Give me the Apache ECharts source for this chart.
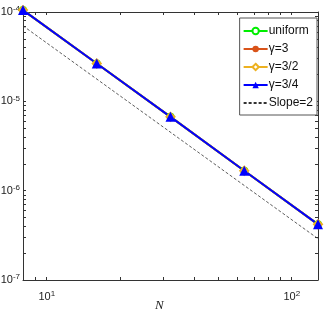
<!DOCTYPE html>
<html><head><meta charset="utf-8">
<script src="https://cdn.jsdelivr.net/npm/echarts@6/dist/echarts.min.js"></script>
<style>html,body{margin:0;padding:0;background:#fff}#c{width:332px;height:316px}</style>
</head><body><div id="c"></div>
<script>
const N = [8, 16, 32, 64, 128];
const uniform = [1.05e-4, 2.65e-5, 6.7e-6, 1.67e-6, 4.2e-7];
const gamma3 = [1.05e-4, 2.65e-5, 6.7e-6, 1.67e-6, 4.2e-7];
const gamma32 = [1.05e-4, 2.65e-5, 6.7e-6, 1.67e-6, 4.2e-7];
const gamma34 = [1.05e-4, 2.65e-5, 6.7e-6, 1.67e-6, 4.2e-7];
const slope2N = [8, 128];
const slope2 = [7.0e-5, 2.9e-7];
const xTicks = [9, 10, 20, 30, 40, 50, 60, 70, 80, 90, 100];
const xLabels = [10, 100];
const yTicks = [];
for (let e = -7; e <= -5; e++) for (let m = 1; m <= 9; m++) yTicks.push(m * Math.pow(10, e));
yTicks.push(1e-4);
const yLabels = [1e-7, 1e-6, 1e-5, 1e-4];
const xName = 'N';

const pair = (xs, ys) => xs.map((x, i) => [x, ys[i]]);
const sup = v => { const e = Math.round(Math.log10(v)); return '10{s|' + e + '}'; };
const font = 'Liberation Sans';
const axisLine = { lineStyle: { color: '#333', width: 1 } };
const tick = { inside: true, length: 3, lineStyle: { color: '#333' } };

const chart = echarts.init(document.getElementById('c'), null, { renderer: 'canvas' });
function xAx(pos, show) {
  return { type: 'log', logBase: 10, min: 8, max: 128, position: pos,
    axisLine: axisLine, splitLine: { show: false },
    axisTick: Object.assign({ customValues: xTicks }, tick),
    axisLabel: show ? { customValues: xLabels, formatter: sup, color: '#222', fontFamily: font, fontSize: 11, margin: 10,
      rich: { s: { fontSize: 8, verticalAlign: 'top', padding: [0, 0, 6, 0], fontFamily: font, color: '#222' } } } : { show: false } };
}
function yAx(pos, show) {
  return { type: 'log', logBase: 10, min: 1e-7, max: 1e-4, position: pos,
    axisLine: axisLine, splitLine: { show: false },
    axisTick: Object.assign({ customValues: yTicks }, tick),
    axisLabel: show ? { customValues: yLabels, formatter: sup, color: '#222', fontFamily: font, fontSize: 11, margin: 3,
      rich: { s: { fontSize: 8, verticalAlign: 'top', padding: [0, 0, 6, 0], fontFamily: font, color: '#222' } } } : { show: false } };
}
const mk = (name, data, color, symbol, size, width) => ({
  name, type: 'line', data: pair(N, data), symbol, symbolSize: size, clip: false,
  lineStyle: { color, width }, itemStyle: { color }, animation: false });
chart.setOption({
  animation: false,
  title: { text: xName, left: 155, top: 299, padding: 0,
    textStyle: { fontFamily: 'Liberation Serif', fontStyle: 'italic', fontWeight: 'normal', fontSize: 13, color: '#222' } },
  grid: { left: 23, right: 14, top: 12, bottom: 36, containLabel: false, outerBoundsMode: 'none' },
  xAxis: [xAx('bottom', true), xAx('top', false)],
  yAxis: [yAx('left', true), yAx('right', false)],
  legend: { right: 15, top: 18, orient: 'vertical', backgroundColor: '#fff', borderColor: '#555', borderWidth: 1,
    padding: [6, 4, 5, 3], itemGap: 4, itemWidth: 24, itemHeight: 8,
    textStyle: { fontFamily: font, fontSize: 12, lineHeight: 14, color: '#111', padding: [0, 0, 0, -4] },
    data: ['uniform', 'γ=3', 'γ=3/2', 'γ=3/4', { name: 'Slope=2', itemStyle: { opacity: 0 } }] },
  series: [
    mk('uniform', uniform, '#00ee00', 'emptyCircle', 6, 2),
    mk('γ=3', gamma3, '#d95319', 'circle', 5, 2),
    mk('γ=3/2', gamma32, '#edb120', 'emptyDiamond', 8, 2),
    mk('γ=3/4', gamma34, '#0000ff', 'triangle', 10, 2),
    { name: 'Slope=2', type: 'line', data: pair(slope2N, slope2), symbol: 'none',
      lineStyle: { color: '#333', width: 0.8, type: [3, 2] }, itemStyle: { color: '#333' } }
  ]
});
</script></body></html>
